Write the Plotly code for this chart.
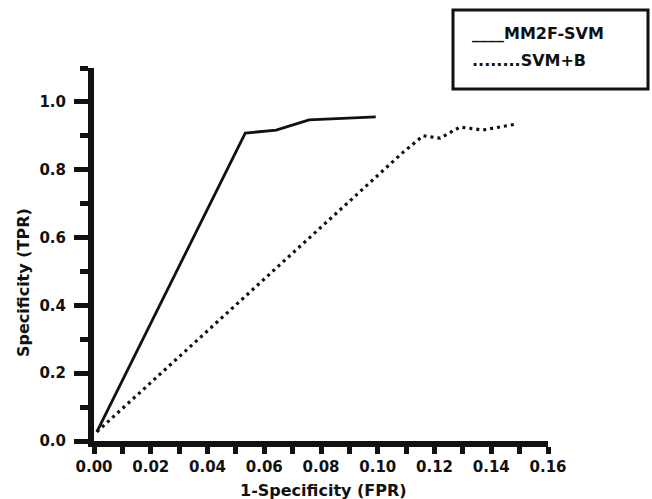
import plotly.graph_objects as go

# Data
mm2f_fpr = [0.001, 0.0533, 0.0642, 0.0758, 0.0993]
mm2f_tpr = [0.027, 0.908, 0.917, 0.947, 0.956]
svmb_fpr = [0.001, 0.109, 0.116, 0.122, 0.129, 0.137, 0.149]
svmb_tpr = [0.027, 0.852, 0.900, 0.893, 0.926, 0.917, 0.935]

x_ticks = [0.00, 0.02, 0.04, 0.06, 0.08, 0.10, 0.12, 0.14, 0.16]
x_labels = ["0.00", "0.02", "0.04", "0.06", "0.08", "0.10", "0.12", "0.14", "0.16"]
y_ticks = [0.0, 0.2, 0.4, 0.6, 0.8, 1.0]
y_labels = ["0.0", "0.2", "0.4", "0.6", "0.8", "1.0"]

legend_lines = ["____MM2F-SVM", "........SVM+B"]

FONT = "DejaVu Sans"
INK = "#111111"

L, R, T, B = 94, 104, 68, 58
W, H = 652, 499
PW, PH = W - L - R, H - T - B


def px(xp):
    return (xp - L) / PW


def py(yp):
    return (H - B - yp) / PH


fig = go.Figure()
fig.add_trace(go.Scatter(x=mm2f_fpr, y=mm2f_tpr, mode="lines",
                         line=dict(color=INK, width=2.8), name="MM2F-SVM",
                         showlegend=False))
fig.add_trace(go.Scatter(x=svmb_fpr, y=svmb_tpr, mode="lines",
                         line=dict(color=INK, width=3.2, dash="3px,4px"), name="SVM+B",
                         showlegend=False))

fig.update_layout(
    width=W, height=H,
    margin=dict(l=L, r=R, t=T, b=B),
    paper_bgcolor="white", plot_bgcolor="white",
    font=dict(family=FONT, color=INK, size=15),
)
fig.update_xaxes(
    range=[0, 0.16], tickvals=x_ticks, ticktext=x_labels,
    showgrid=False, zeroline=False,
    showline=True, linewidth=6, linecolor=INK,
    ticks="outside", ticklen=7, tickwidth=5, tickcolor=INK,
    ticklabelstandoff=0,
    tickfont=dict(family=FONT, size=15, color=INK, weight="bold"),
    minor=dict(dtick=0.01, tick0=0, ticks="outside", ticklen=7, tickwidth=5, tickcolor=INK, showgrid=False),
)
fig.update_yaxes(
    range=[0, 1.1], tickvals=y_ticks, ticktext=y_labels,
    showgrid=False, zeroline=False,
    showline=True, linewidth=6, linecolor=INK,
    ticks="outside", ticklen=14, tickwidth=5, tickcolor=INK,
    ticklabelstandoff=5,
    tickfont=dict(family=FONT, size=15, color=INK, weight="bold"),
    minor=dict(dtick=0.1, tick0=0, ticks="outside", ticklen=8, tickwidth=5, tickcolor=INK, showgrid=False),
)

# Axis titles
fig.add_annotation(text="1-Specificity (FPR)", xref="paper", yref="paper",
                   x=px(323), y=py(490), xanchor="center", yanchor="middle",
                   showarrow=False, font=dict(family=FONT, size=16, color=INK, weight="bold"))
fig.add_annotation(text="Specificity (TPR)", xref="paper", yref="paper",
                   x=px(23), y=py(283), xanchor="center", yanchor="middle", textangle=-90,
                   showarrow=False, font=dict(family=FONT, size=16, color=INK, weight="bold"))

# Legend box
fig.add_shape(type="rect", xref="paper", yref="paper",
              x0=px(453), x1=px(648), y0=py(89), y1=py(10),
              line=dict(color=INK, width=3), fillcolor="white")
fig.add_annotation(text=legend_lines[0], xref="paper", yref="paper",
                   x=px(470), y=py(34), xanchor="left", yanchor="middle",
                   showarrow=False, font=dict(family=FONT, size=16, color=INK, weight="bold"))
fig.add_annotation(text=legend_lines[1], xref="paper", yref="paper",
                   x=px(470), y=py(61), xanchor="left", yanchor="middle",
                   showarrow=False, font=dict(family=FONT, size=16, color=INK, weight="bold"))

fig.write_html("out.html")
